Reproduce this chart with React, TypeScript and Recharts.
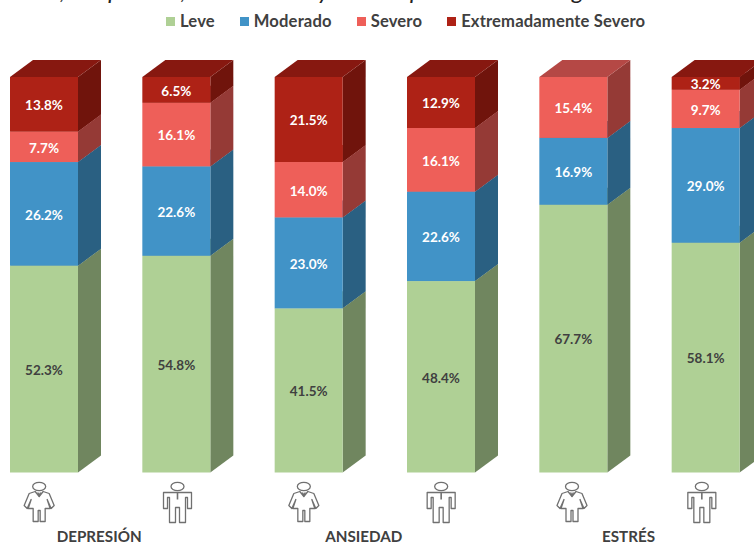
import React from "react";
import { BarChart, Bar, XAxis, YAxis, Legend, LabelList } from "recharts";

const groups = ["DEPRESIÓN", "DEPRESIÓN", "ANSIEDAD", "ANSIEDAD", "ESTRÉS", "ESTRÉS"];
const sexes = ["F", "M", "F", "M", "F", "M"];
const seriesNames = ["Leve", "Moderado", "Severo", "Extremadamente Severo"];
const leve = [52.3, 54.8, 41.5, 48.4, 67.7, 58.1];
const moderado = [26.2, 22.6, 23.0, 22.6, 16.9, 29.0];
const severo = [7.7, 16.1, 14.0, 16.1, 15.4, 9.7];
const extremo = [13.8, 6.5, 21.5, 12.9, 0, 3.2];
const titleWords = ["Sexo,", "depresión,", "ansiedad", "y", "estrés", "por", "sexo", "en", "el", "grado"];

const data = groups.map((g, i) => ({
  category: `${g}-${sexes[i]}`,
  group: g,
  sex: sexes[i],
  Leve: leve[i],
  Moderado: moderado[i],
  Severo: severo[i],
  "Extremadamente Severo": extremo[i],
}));

const FONT = "Lato, 'Open Sans', sans-serif";
const DX = 23;
const DY = 17;
const SHIFT = 22;
const ICON_DX = [-5, 1, -5, 0, -1.5, -4];
const TITLE_X = [13, 84, 197, 318, 340, 410, 450, 500, 530, 572];

const makeShape = (fill: string, side: string, top: string) => (p: any) => {
  const { x, y, width: w, height: h } = p;
  if (!h || h <= 0) return <g />;
  const r = x + w;
  return (
    <g>
      <polygon points={`${r},${y} ${r + DX},${y - DY} ${r + DX},${y + h - DY} ${r},${y + h}`} fill={side} />
      <polygon points={`${x},${y} ${x + DX},${y - DY} ${r + DX},${y - DY} ${r},${y}`} fill={top} />
      <rect x={x} y={y} width={w} height={h} fill={fill} />
    </g>
  );
};

const woman =
  "M-4,5 L-10,7 L-15,19 L-12,22 L-8,13 L-11,22 L-6,22 L-6,35 L-1,35 L-1,24 L1,24 L1,35 L6,35 L6,22 L11,22 L8,13 L12,22 L15,19 L10,7 L4,5 L0,10 Z";
const man =
  "M-14,6 L14,6 L14,22 L10,22 L10,11 L8,11 L8,36 L2,36 L2,21 L-2,21 L-2,36 L-8,36 L-8,11 L-10,11 L-10,22 L-14,22 Z";

const IconTick = (p: any) => {
  const { x, index } = p;
  const d = data[index];
  const baseY = 486.5;
  const isF = d.sex === "F";
  const cx = x + ICON_DX[index];
  return (
    <g>
      <g transform={`translate(${cx},${baseY})`} fill="none" stroke="#707070">
        <ellipse cx={0} cy={0} rx={6.5} ry={4.2} strokeWidth={1.3} />
        <path d={isF ? woman : man} strokeWidth={1.3} strokeLinejoin="round" />
        <path d={isF ? "M-1.5,6 L0,9 L1.5,6" : "M0,6 L0,13"} strokeWidth={1.6} />
      </g>
      {index % 2 === 0 && (
        <text
          x={x + 55}
          y={542}
          textAnchor="middle"
          fontFamily={FONT}
          fontWeight={700}
          fontSize={15.2}
          fill="#404040"
        >
          {d.group}
        </text>
      )}
    </g>
  );
};

const LegendContent = (p: any) => (
  <div
    style={{
      display: "flex",
      justifyContent: "flex-start",
      alignItems: "center",
      fontFamily: FONT,
      fontWeight: 700,
      fontSize: 16.6,
      letterSpacing: 0.15,
      color: "#404040",
      whiteSpace: "nowrap",
      lineHeight: "20px",
    }}
  >
    {(p.payload || []).map((e: any) => (
      <span key={e.value} style={{ display: "inline-flex", alignItems: "center", marginRight: 25 }}>
        <span style={{ width: 9, height: 9, background: e.color, marginRight: 5, display: "inline-block" }} />
        {e.value}
      </span>
    ))}
  </div>
);

const labelFmt = (v: any) => (v ? `${Number(v).toFixed(1)}%` : "");

const labelProps = {
  position: "center" as const,
  formatter: labelFmt,
  fontFamily: FONT,
  fontWeight: 700,
  fontSize: 13.5,
  dy: 1,
};

export default function App() {
  return (
    <div style={{ position: "fixed", left: 0, top: 0, width: 754, height: 543, overflow: "hidden", background: "#fff" }}>
      <div style={{ position: "absolute", left: -SHIFT, top: 0 }}>
        <BarChart
          width={794}
          height={543}
          data={data}
          margin={{ top: 77, right: 0, bottom: 0, left: 0 }}
          barSize={68}
        >
          <YAxis hide domain={[0, 100]} />
          <XAxis dataKey="category" interval={0} height={70.5} axisLine={false} tickLine={false} tick={IconTick} />
          <Legend
            layout="horizontal"
            align="center"
            verticalAlign="middle"
            content={LegendContent}
            itemSorter={(e: any) => seriesNames.indexOf(e.value)}
            wrapperStyle={{ top: 11, left: 188, width: 560, height: 20 }}
          />
          <text y={-1.5} fontFamily={FONT} fontStyle="italic" fontSize={24} fill="#222">
            {titleWords.map((w, i) => (
              <tspan key={i} x={SHIFT + TITLE_X[i]}>
                {w}
              </tspan>
            ))}
          </text>
          <Bar dataKey="Leve" stackId="a" fill="#AFD095" isAnimationActive={false} shape={makeShape("#AFD095", "#70865F", "#8CA677")}>
            <LabelList dataKey="Leve" fill="#404040" {...labelProps} />
          </Bar>
          <Bar dataKey="Moderado" stackId="a" fill="#4193C7" isAnimationActive={false} shape={makeShape("#4193C7", "#2A6082", "#34769F")}>
            <LabelList dataKey="Moderado" fill="#fff" {...labelProps} />
          </Bar>
          <Bar dataKey="Severo" stackId="a" fill="#EE5F59" isAnimationActive={false} shape={makeShape("#EE5F59", "#953A36", "#B54845")}>
            <LabelList dataKey="Severo" fill="#fff" {...labelProps} />
          </Bar>
          <Bar dataKey="Extremadamente Severo" stackId="a" fill="#AE2216" isAnimationActive={false} shape={makeShape("#AE2216", "#70140C", "#871810")}>
            <LabelList dataKey="Extremadamente Severo" fill="#fff" {...labelProps} />
          </Bar>
        </BarChart>
      </div>
    </div>
  );
}
